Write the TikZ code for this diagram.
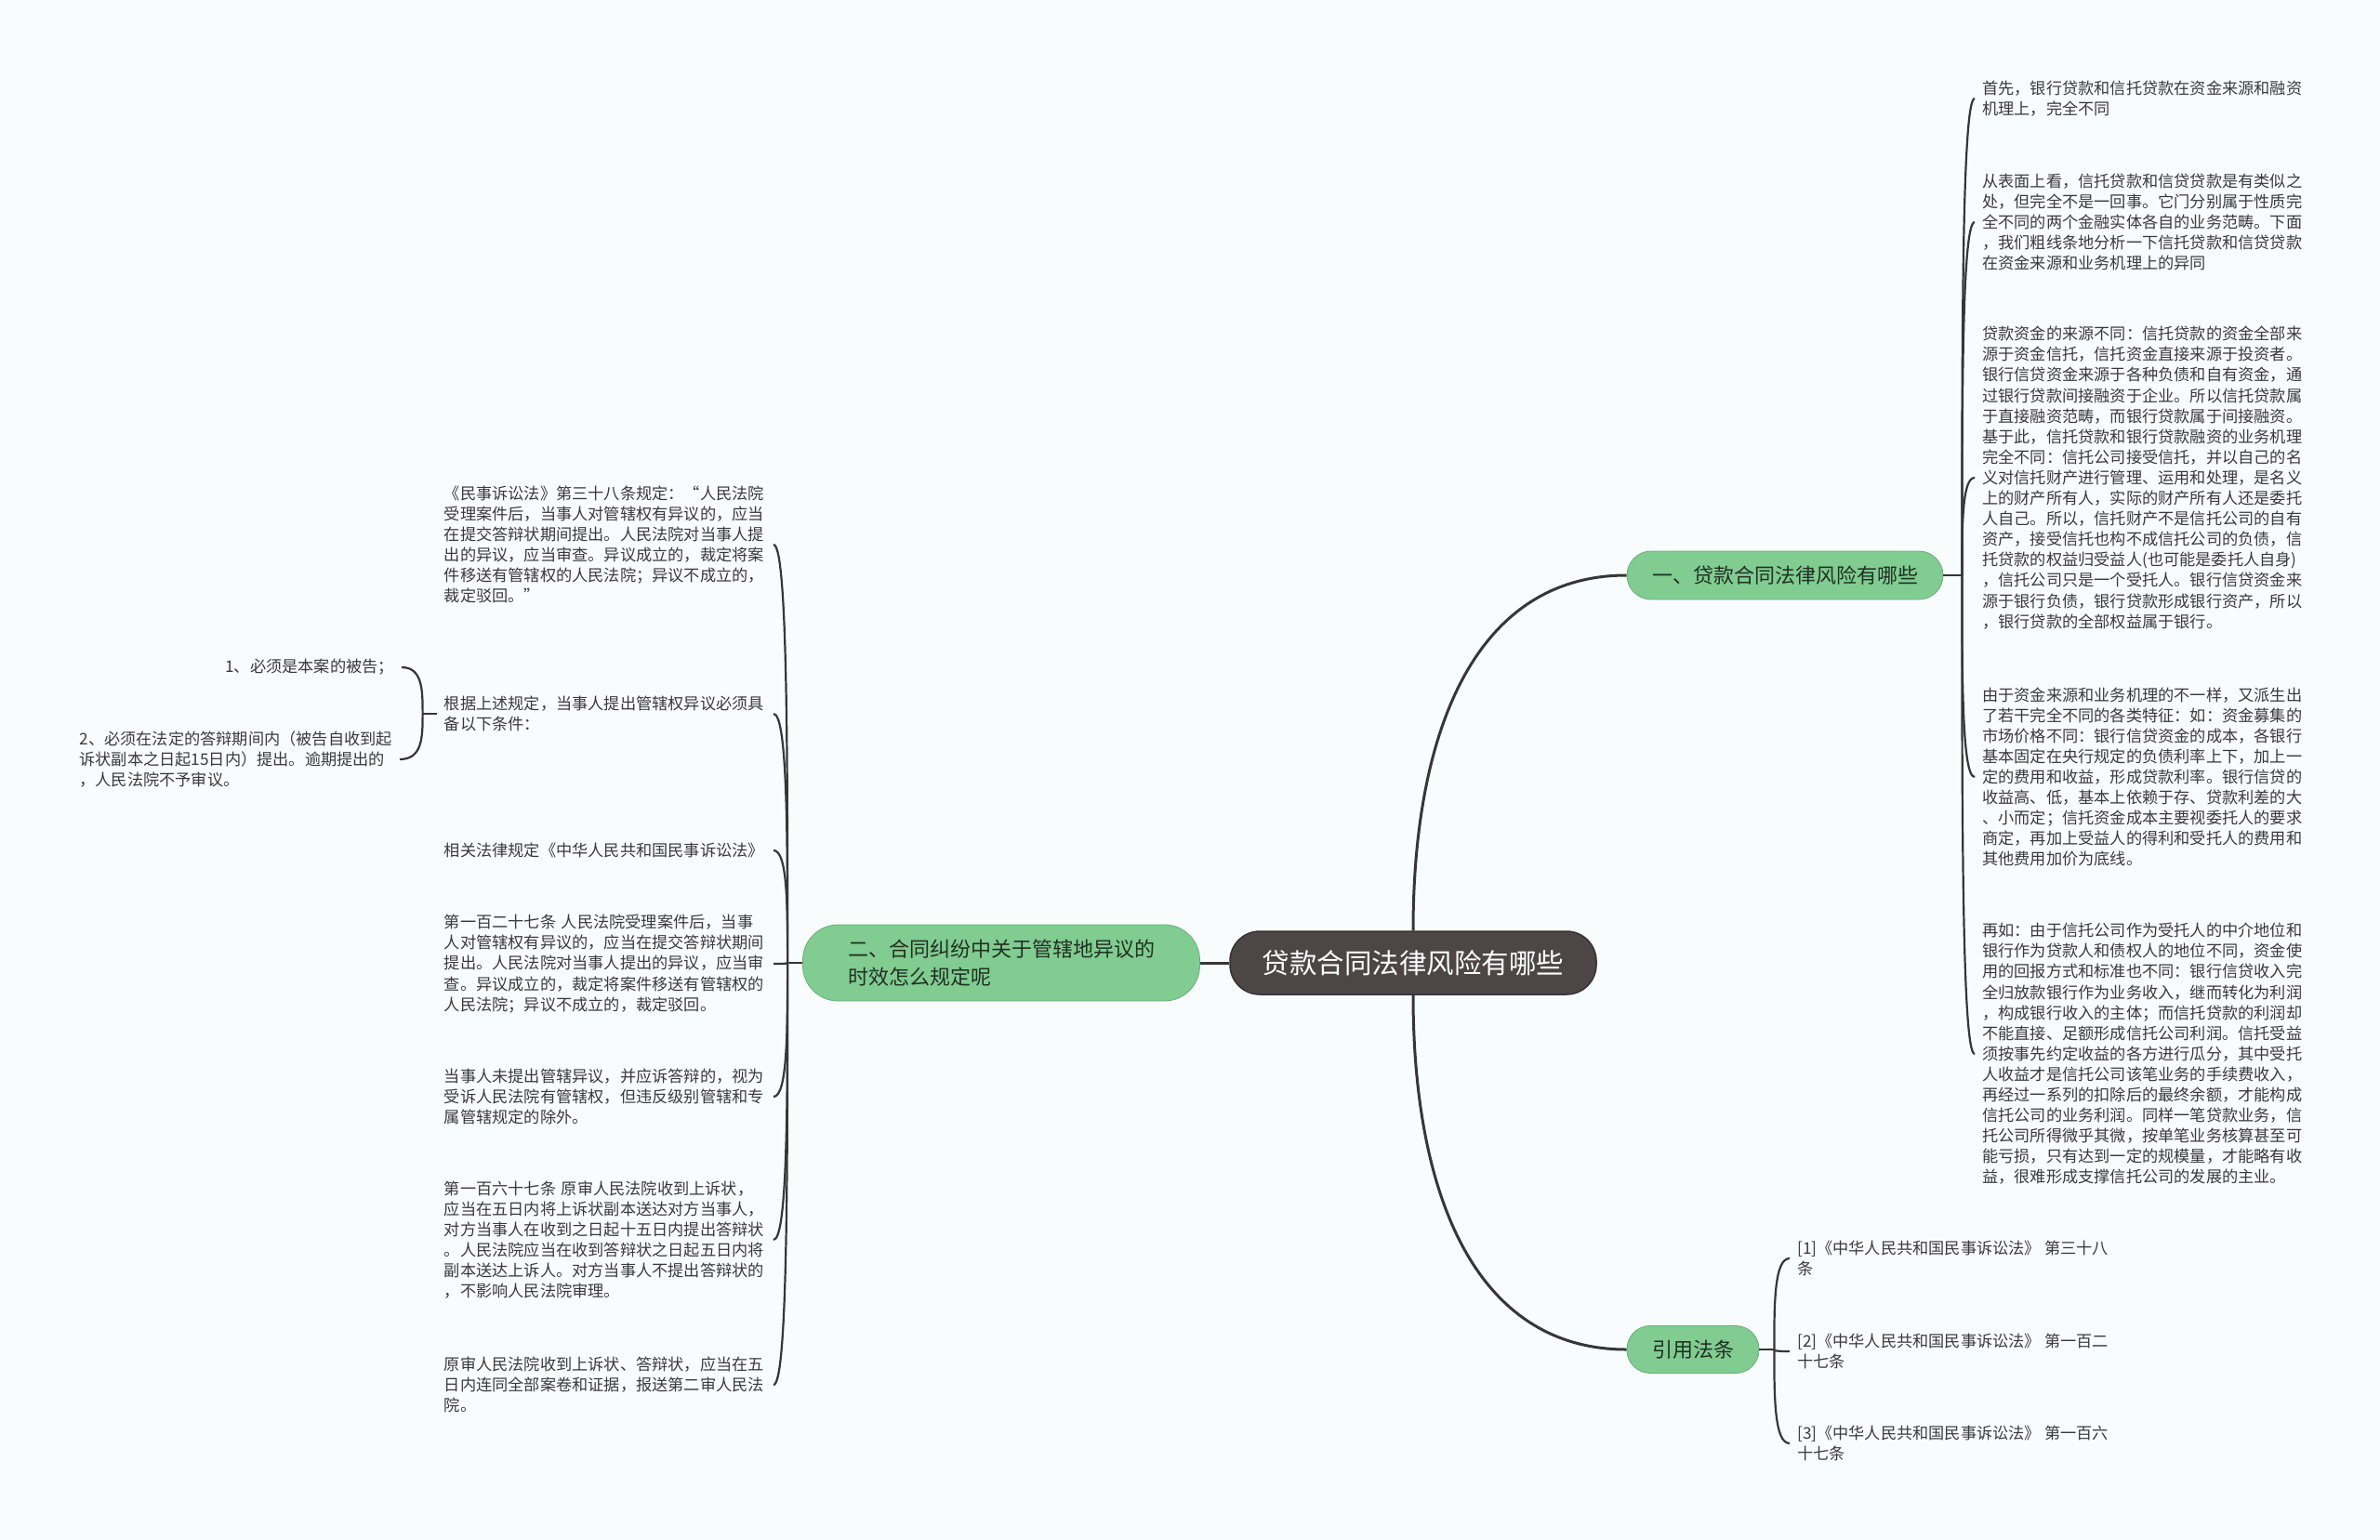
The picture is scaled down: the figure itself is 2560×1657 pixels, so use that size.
\documentclass[tikz,border=0pt]{standalone}
\usepackage{fontspec}
\setmainfont{Noto Sans CJK SC}
\usetikzlibrary{calc}
\definecolor{bgc}{HTML}{F8FCFD}
\definecolor{rootfill}{HTML}{4C4647}
\definecolor{rootedge}{HTML}{363233}
\definecolor{brgreen}{HTML}{80CC91}
\definecolor{linec}{HTML}{363636}
\definecolor{leaftext}{HTML}{3A3A3A}
\definecolor{brtext}{HTML}{223022}
\begin{document}
\begin{tikzpicture}[x=1pt,y=-1pt,
  rootnode/.style={fill=rootfill,draw=rootedge,line width=1.5pt,rounded corners=32pt,
    minimum width=394pt,minimum height=68pt,text=white,inner sep=0pt,
    font=\fontsize{29.5}{34}\selectfont},
  branch/.style={fill=brgreen,draw=brgreen!85!black,line width=0.8pt,text=brtext,inner sep=0pt,
    font=\fontsize{22}{30}\selectfont},
  leafR/.style={anchor=west,align=left,inner xsep=8pt,inner ysep=0pt,text=leaftext,
    font=\fontsize{17.2}{22.1}\selectfont},
  leafL/.style={anchor=east,align=left,text width=346pt,inner xsep=8pt,inner ysep=0pt,text=leaftext,
    font=\fontsize{17.2}{22.1}\selectfont},
  leafLL/.style={anchor=east,align=left,inner xsep=8pt,inner ysep=0pt,text=leaftext,
    font=\fontsize{17.2}{22.1}\selectfont},
  mainline/.style={draw=linec,line width=3pt},
  leafline/.style={draw=linec,line width=2.2pt},
  brk/.style={to path={let \p1=(\tikztostart), \p2=(\tikztotarget) in
    .. controls ($(\p1)!0.5!(\x1,\y2)$) and (\x1,\y2) .. (\tikztotarget)}}
]
\useasboundingbox (0,0) rectangle (2560,1657);
\fill[bgc] (0,0) rectangle (2560,1657);

% root and branches
\node[rootnode] (root) at (1520,1036) {贷款合同法律风险有哪些};
\node[branch,rounded corners=26pt,minimum width=340pt,minimum height=52pt] (b1) at (1920,619) {一、贷款合同法律风险有哪些};
\node[branch,rounded corners=38pt,minimum width=427pt,minimum height=82pt,align=left] (b2) at (1077,1036) {二、合同纠纷中关于管辖地异议的\\时效怎么规定呢};
\node[branch,rounded corners=25pt,minimum width=142pt,minimum height=51pt] (b3) at (1821,1452) {引用法条};

\draw[mainline] (root.north) .. controls +(0,-220) and +(-160,0) .. (b1.west);
\draw[mainline] (root.south) .. controls +(0,220) and +(-160,0) .. (b3.west);
\draw[mainline] (root.west) -- (b2.east);

% right leaves of branch 1
\node[leafR] (r1) at (2124,106) {首先，银行贷款和信托贷款在资金来源和融资\\机理上，完全不同};
\node[leafR] (r2) at (2124,239) {从表面上看，信托贷款和信贷贷款是有类似之\\处，但完全不是一回事。它门分别属于性质完\\全不同的两个金融实体各自的业务范畴。下面\\，我们粗线条地分析一下信托贷款和信贷贷款\\在资金来源和业务机理上的异同};
\node[leafR] (r3) at (2124,514) {贷款资金的来源不同：信托贷款的资金全部来\\源于资金信托，信托资金直接来源于投资者。\\银行信贷资金来源于各种负债和自有资金，通\\过银行贷款间接融资于企业。所以信托贷款属\\于直接融资范畴，而银行贷款属于间接融资。\\基于此，信托贷款和银行贷款融资的业务机理\\完全不同：信托公司接受信托，并以自己的名\\义对信托财产进行管理、运用和处理，是名义\\上的财产所有人，实际的财产所有人还是委托\\人自己。所以，信托财产不是信托公司的自有\\资产，接受信托也构不成信托公司的负债，信\\托贷款的权益归受益人(也可能是委托人自身)\\，信托公司只是一个受托人。银行信贷资金来\\源于银行负债，银行贷款形成银行资产，所以\\，银行贷款的全部权益属于银行。};
\node[leafR] (r4) at (2124,836) {由于资金来源和业务机理的不一样，又派生出\\了若干完全不同的各类特征：如：资金募集的\\市场价格不同：银行信贷资金的成本，各银行\\基本固定在央行规定的负债利率上下，加上一\\定的费用和收益，形成贷款利率。银行信贷的\\收益高、低，基本上依赖于存、贷款利差的大\\、小而定；信托资金成本主要视委托人的要求\\商定，再加上受益人的得利和受托人的费用和\\其他费用加价为底线。};
\node[leafR] (r5) at (2124,1134) {再如：由于信托公司作为受托人的中介地位和\\银行作为贷款人和债权人的地位不同，资金使\\用的回报方式和标准也不同：银行信贷收入完\\全归放款银行作为业务收入，继而转化为利润\\，构成银行收入的主体；而信托贷款的利润却\\不能直接、足额形成信托公司利润。信托受益\\须按事先约定收益的各方进行瓜分，其中受托\\人收益才是信托公司该笔业务的手续费收入，\\再经过一系列的扣除后的最终余额，才能构成\\信托公司的业务利润。同样一笔贷款业务，信\\托公司所得微乎其微，按单笔业务核算甚至可\\能亏损，只有达到一定的规模量，才能略有收\\益，很难形成支撑信托公司的发展的主业。};

\coordinate (s1) at ($(b1.east)+(20,0)$);
\draw[leafline] (b1.east) -- (s1);
\foreach \nd in {r1,r2,r3,r4,r5} \draw[leafline] (s1) to[brk] (\nd.west);

% leaves of branch 3
\node[leafR] (c1) at (1925,1354) {[1]《中华人民共和国民事诉讼法》 第三十八\\条};
\node[leafR] (c2) at (1925,1454) {[2]《中华人民共和国民事诉讼法》 第一百二\\十七条};
\node[leafR] (c3) at (1925,1553) {[3]《中华人民共和国民事诉讼法》 第一百六\\十七条};

\coordinate (s3) at ($(b3.east)+(16,0)$);
\draw[leafline] (b3.east) -- (s3);
\foreach \nd in {c1,c2,c3} \draw[leafline] (s3) to[brk] (\nd.west);

% left leaves of branch 2
\node[leafL] (l1) at (832,586) {《民事诉讼法》第三十八条规定：“人民法院\\受理案件后，当事人对管辖权有异议的，应当\\在提交答辩状期间提出。人民法院对当事人提\\出的异议，应当审查。异议成立的，裁定将案\\件移送有管辖权的人民法院；异议不成立的，\\裁定驳回。”};
\node[leafL] (l2) at (832,768) {根据上述规定，当事人提出管辖权异议必须具\\备以下条件：};
\node[leafL] (l3) at (832,915) {相关法律规定《中华人民共和国民事诉讼法》};
\node[leafL] (l4) at (832,1037) {第一百二十七条 人民法院受理案件后，当事\\人对管辖权有异议的，应当在提交答辩状期间\\提出。人民法院对当事人提出的异议，应当审\\查。异议成立的，裁定将案件移送有管辖权的\\人民法院；异议不成立的，裁定驳回。};
\node[leafL] (l5) at (832,1180) {当事人未提出管辖异议，并应诉答辩的，视为\\受诉人民法院有管辖权，但违反级别管辖和专\\属管辖规定的除外。};
\node[leafL] (l6) at (832,1334) {第一百六十七条 原审人民法院收到上诉状，\\应当在五日内将上诉状副本送达对方当事人，\\对方当事人在收到之日起十五日内提出答辩状\\。人民法院应当在收到答辩状之日起五日内将\\副本送达上诉人。对方当事人不提出答辩状的\\，不影响人民法院审理。};
\node[leafL] (l7) at (832,1490) {原审人民法院收到上诉状、答辩状，应当在五\\日内连同全部案卷和证据，报送第二审人民法\\院。};

\coordinate (s2) at ($(b2.west)+(-16,0)$);
\draw[leafline] (b2.west) -- (s2);
\foreach \nd in {l1,l2,l3,l4,l5,l6,l7} \draw[leafline] (s2) to[brk] (\nd.east);

% sub-leaves of l2
\node[leafLL] (ll1) at (432,718) {1、必须是本案的被告；};
\node[leafLL] (ll2) at (430,817) {2、必须在法定的答辩期间内（被告自收到起\\诉状副本之日起15日内）提出。逾期提出的\\，人民法院不予审议。};

\coordinate (s4) at ($(l2.west)+(-15,0)$);
\draw[leafline] (l2.west) -- (s4);
\foreach \nd in {ll1,ll2} \draw[leafline] (s4) to[brk] (\nd.east);
\end{tikzpicture}
\end{document}
